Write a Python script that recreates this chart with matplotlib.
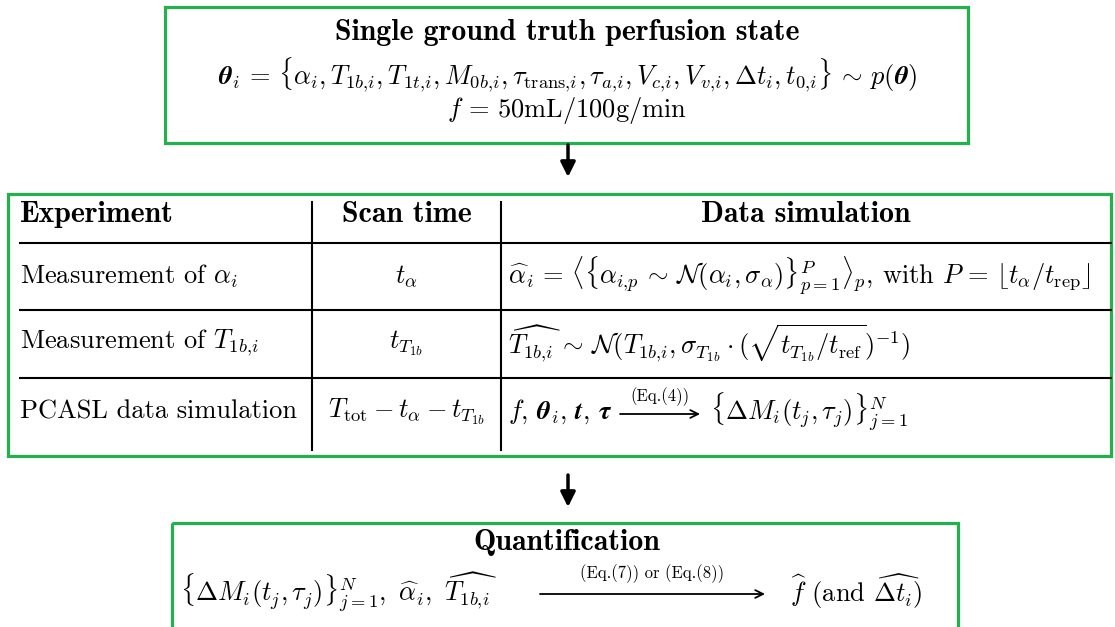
import matplotlib
matplotlib.use('Agg')
import matplotlib.pyplot as plt
from matplotlib.patches import Rectangle

plt.rcParams['mathtext.fontset'] = 'cm'

W, H = 1115, 627
GREEN = '#22b14c'
FS = 19
FS_BF = 21.5
FS_SMALL = 12
RM = 'cmr10'
BF = 'cmb10'

# Text content
top_title = 'Single ground truth perfusion state'
top_lines = [
    r'$\boldsymbol{\theta}_i\,=\,\{\alpha_i, T_{1b{,}i}, T_{1t{,}i}, M_{0b{,}i}, \tau_{\mathrm{trans}{,}i}, '
    r'\tau_{a{,}i}, V_{c{,}i}, V_{v{,}i}, \Delta t_i, t_{0{,}i}\}\,\sim\,p(\boldsymbol{\theta})$',
    r'$f\,=\,50\mathrm{mL}/100\mathrm{g}/\mathrm{min}$',
]
headers = ['Experiment', 'Scan time', 'Data simulation']
experiments = [r'Measurement of $\alpha_i$', r'Measurement of $T_{1b{,}i}$', 'PCASL data simulation']
scan_times = [r'$t_\alpha$', r'$t_{T_{1b}}$', r'$T_{\mathrm{tot}} - t_\alpha - t_{T_{1b}}$']
simulations = [
    r'$\widehat{\alpha}_i\,=\,\langle\{\alpha_{i{,}p}\,\sim\,\mathcal{N}(\alpha_i, \sigma_\alpha)\}_{p=1}^{P}\rangle_p$, '
    r'with $P\,=\,\lfloor t_\alpha/t_{\mathrm{rep}}\rfloor$',
    r'$\widehat{T_{1b{,}i}}\,\sim\,\mathcal{N}(T_{1b{,}i}, \sigma_{T_{1b}} \cdot '
    r'(\sqrt{t_{T_{1b}}/t_{\mathrm{ref}}})^{-1})$',
]
pcasl_in = r'$f,\, \boldsymbol{\theta}_i,\, \boldsymbol{t},\, \boldsymbol{\tau}$'
pcasl_eq = '(Eq.(4))'
pcasl_out = r'$\{\Delta M_i(t_j, \tau_j)\}_{j=1}^{N}$'

quant_title = 'Quantification'
quant_in = r'$\{\Delta M_i(t_j, \tau_j)\}_{j=1}^{N},\ \widehat{\alpha}_i,\ \widehat{T_{1b{,}i}}$'
quant_eq = '(Eq.(7)) or (Eq.(8))'
quant_out = r'$\widehat{f}$ (and $\widehat{\Delta t_i}$)'

# Layout (pixels, y downwards)
top_box = (165, 7, 803, 136)
mid_box = (8, 194, 1103, 262)
bot_box = (172, 523, 786, 200)
col_x = [20, 312, 501, 1111]
row_lines = [243, 310, 378]
row_y = [215, 276, 343, 412]

fig = plt.figure(figsize=(W / 100, H / 100), dpi=100)
ax = fig.add_axes([0, 0, 1, 1])
ax.set_xlim(0, W)
ax.set_ylim(H, 0)
ax.axis('off')

for x, y, w, h in (top_box, mid_box, bot_box):
    ax.add_patch(Rectangle((x, y), w, h, fill=False, edgecolor=GREEN, lw=2.3))

# top box
ax.text(567, 33, top_title, family=BF, fontsize=FS_BF, ha='center', va='center')
ax.text(567, 75, top_lines[0], fontsize=FS, ha='center', va='center')
ax.text(567, 110, top_lines[1], fontsize=FS, ha='center', va='center')

# arrows between boxes
arr = dict(arrowstyle='-|>', lw=2.5, color='black', mutation_scale=22, shrinkA=0, shrinkB=0)
ax.annotate('', xy=(568, 177), xytext=(568, 145), arrowprops=arr)
ax.annotate('', xy=(568, 507), xytext=(568, 475), arrowprops=arr)

# table grid
for y in row_lines:
    ax.plot([col_x[0], col_x[3]], [y, y], color='black', lw=1.5)
for x in col_x[1:3]:
    ax.plot([x, x], [202, 450], color='black', lw=1.5)

# header
ax.text(col_x[0], row_y[0], headers[0], family=BF, fontsize=FS_BF, ha='left', va='center')
ax.text((col_x[1] + col_x[2]) / 2, row_y[0], headers[1], family=BF, fontsize=FS_BF, ha='center', va='center')
ax.text((col_x[2] + col_x[3]) / 2, row_y[0], headers[2], family=BF, fontsize=FS_BF, ha='center', va='center')

for i in range(3):
    y = row_y[i + 1]
    ax.text(col_x[0], y, experiments[i], family=RM, fontsize=FS, ha='left', va='center')
    ax.text((col_x[1] + col_x[2]) / 2, y, scan_times[i], family=RM, fontsize=FS, ha='center', va='center')
for i, s in enumerate(simulations):
    ax.text(508, row_y[i + 1], s, family=RM, fontsize=FS, ha='left', va='center')

# PCASL row with labelled arrow
fig.canvas.draw()
renderer = fig.canvas.get_renderer()
y3 = row_y[3]
t_in = ax.text(508, y3, pcasl_in, fontsize=FS, ha='left', va='center')
x_end = t_in.get_window_extent(renderer).x1
a0, a1 = x_end + 8, x_end + 88
thin = dict(arrowstyle='->', lw=1.3, color='black', mutation_scale=14, shrinkA=0, shrinkB=0)
ax.annotate('', xy=(a1, y3 + 2), xytext=(a0, y3 + 2), arrowprops=thin)
ax.text((a0 + a1) / 2, y3 - 15, pcasl_eq, family=RM, fontsize=FS_SMALL, ha='center', va='center')
ax.text(a1 + 10, y3, pcasl_out, fontsize=FS, ha='left', va='center')

# bottom box
ax.text(567, 543, quant_title, family=BF, fontsize=FS_BF, ha='center', va='center')
ax.text(180, 592, quant_in, fontsize=FS, ha='left', va='center')
ax.annotate('', xy=(765, 594), xytext=(540, 594), arrowprops=thin)
ax.text(652, 574, quant_eq, family=RM, fontsize=FS_SMALL, ha='center', va='center')
ax.text(790, 592, quant_out, family=RM, fontsize=FS, ha='left', va='center')

fig.savefig('out.png', dpi=100, facecolor='white')
